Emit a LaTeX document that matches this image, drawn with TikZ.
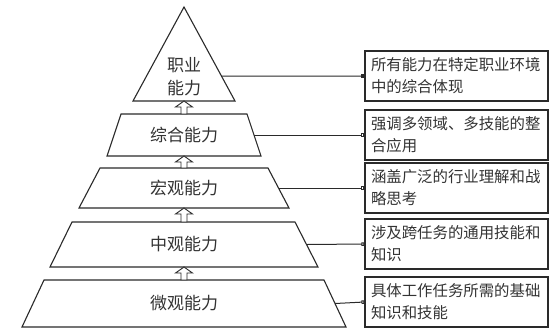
\documentclass[tikz,border=0pt]{standalone}
\usepackage{fontspec}
\newfontfamily\cjk{Noto Sans CJK SC}
\usetikzlibrary{calc,arrows.meta}
\definecolor{ink}{HTML}{2A2A2A}
\definecolor{txt}{HTML}{333333}
\tikzset{
  lvl/.style={draw=ink, line width=1.1pt, line join=miter, fill=white},
  lvltext/.style={text=txt, font=\cjk\fontsize{17}{23}\selectfont, align=center, inner sep=0pt},
  descbox/.style={draw=ink, line width=1.1pt, text=txt, font=\cjk\fontsize{15.4}{22}\selectfont,
     align=left, text width=171pt, inner xsep=6pt, inner ysep=0pt, minimum height=50pt},
  conn/.style={draw=ink, line width=1pt},
  upar/.style={draw=ink, line width=0.9pt, fill=white, line join=miter},
}
\newcommand{\uparr}[2]{%
  \draw[upar] (184,#1) -- (192.5,#1+6) -- (187,#1+6) -- (187,#2) -- (181,#2) -- (181,#1+6) -- (175.5,#1+6) -- cycle;}
\begin{document}
\begin{tikzpicture}[x=1pt,y=-1pt]
\useasboundingbox (0,0) rectangle (553,333);
\fill[white] (0,0) rectangle (553,333);
% levels
\coordinate (t1a) at (184,7);
\coordinate (t1l) at (133,101);
\coordinate (t1r) at (235,101);
\draw[lvl] (t1a) -- (t1r) -- (t1l) -- cycle;
\coordinate (l2tl) at (121,114); \coordinate (l2tr) at (247,114);
\coordinate (l2bl) at (107,156); \coordinate (l2br) at (261,156);
\draw[lvl] (l2tl) -- (l2tr) -- (l2br) -- (l2bl) -- cycle;
\coordinate (l3tl) at (100,168); \coordinate (l3tr) at (268,168);
\coordinate (l3bl) at (79,208); \coordinate (l3br) at (289,208);
\draw[lvl] (l3tl) -- (l3tr) -- (l3br) -- (l3bl) -- cycle;
\coordinate (l4tl) at (72,222); \coordinate (l4tr) at (295,222);
\coordinate (l4bl) at (50,267); \coordinate (l4br) at (318,267);
\draw[lvl] (l4tl) -- (l4tr) -- (l4br) -- (l4bl) -- cycle;
\coordinate (l5tl) at (44,280); \coordinate (l5tr) at (324,280);
\coordinate (l5bl) at (22,327); \coordinate (l5br) at (346,327);
\draw[lvl] (l5tl) -- (l5tr) -- (l5br) -- (l5bl) -- cycle;
% labels
\node[lvltext] (n1) at (184,77) {职业\\能力};
\node[lvltext] (n2) at (184,135) {综合能力};
\node[lvltext] (n3) at (184,188) {宏观能力};
\node[lvltext] (n4) at (184,244) {中观能力};
\node[lvltext] (n5) at (184,303) {微观能力};
% arrows
\uparr{101}{114}
\uparr{156}{168}
\uparr{208}{222}
\uparr{267}{280}
% boxes
\node[descbox] (b1) at (456.5,76) {所有能力在特定职业环境\\中的综合体现};
\node[descbox] (b2) at (456.5,135) {强调多领域、多技能的整\\合应用};
\node[descbox] (b3) at (456.5,188) {涵盖广泛的行业理解和战\\略思考};
\node[descbox] (b4) at (456.5,244) {涉及跨任务的通用技能和\\知识};
\node[descbox] (b5) at (456.5,302) {具体工作任务所需的基础\\知识和技能};
% connector start points on right edges
\coordinate (e1) at ($(t1a)!{(76-7)/94}!(t1r)$);
\coordinate (e2) at ($(l2tr)!0.5!(l2br)$);
\coordinate (e3) at ($(l3tr)!0.5!(l3br)$);
\coordinate (e4) at ($(l4tr)!0.5!(l4br)$);
\coordinate (e5) at ($(l5tr)!0.5!(l5br)$);
\draw[conn, -{Square[length=3pt,width=3.5pt]}] (e1) -- (b1.west);
\draw[conn, -{Square[open,length=3pt,width=3.5pt]}] (e2) -- (b2.west);
\draw[conn, -{Square[open,length=3pt,width=3.5pt]}] (e3) -- (b3.west);
\draw[conn, -{Square[open,length=3pt,width=3.5pt]}] (e4) -- (b4.west);
\draw[conn, -{Square[open,length=3pt,width=3.5pt]}] (e5) -- (b5.west);
\end{tikzpicture}
\end{document}
